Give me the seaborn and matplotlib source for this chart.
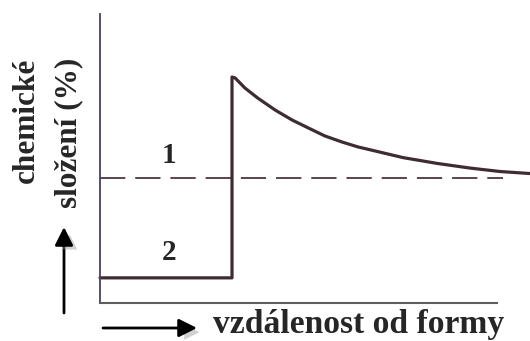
import numpy as np
import pandas as pd
import seaborn as sns
import matplotlib.pyplot as plt
import matplotlib.patheffects as pe

# distance from the mould wall (arbitrary units) and chemical composition (%)
dist_2 = [0, 3.07, 3.07, 3.14, 3.37, 3.67, 4.07, 4.47, 4.84, 5.23, 5.63, 6.00, 6.40,
          7.05, 7.84, 8.60, 9.30, 10.0]
comp_2 = [8.7, 8.7, 78.2, 77.9, 74.4, 70.9, 66.8, 63.3, 60.6, 57.8, 55.7, 54.0, 52.6,
          50.3, 48.3, 46.7, 45.5, 44.8]
dist_1 = [0, 9.37]
comp_1 = [43.4, 43.4]

df2 = pd.DataFrame({'dist': dist_2, 'comp': comp_2})
df1 = pd.DataFrame({'dist': dist_1, 'comp': comp_1})

sns.set_style('white')
serif = ['Liberation Serif', 'DejaVu Serif']

fig = plt.figure(figsize=(5.3, 3.41), dpi=100)
ax = fig.add_axes([100 / 530, 38 / 341, 430 / 530, 289 / 341])

# curve 1 - dashed, curve 2 - solid
sns.lineplot(data=df1, x='dist', y='comp', ax=ax, sort=False, estimator=None,
             color='#4e363c', lw=1.3, linestyle=(0, (14, 5.5)))
sns.lineplot(data=df2, x='dist', y='comp', ax=ax, sort=False, estimator=None,
             color='#3e2c32', lw=2.3)
for ln in ax.lines:
    ln.set_clip_on(False)
    ln.set_solid_joinstyle('round')
    ln.set_solid_capstyle('round')

ax.set_xlim(0, 10)
ax.set_ylim(0, 100)
ax.set_xticks([])
ax.set_yticks([])
ax.set_xlabel('')
ax.set_ylabel('')
for s in ['top', 'right']:
    ax.spines[s].set_visible(False)
ax.spines['left'].set_color('#4e4058')
ax.spines['left'].set_linewidth(1.3)
ax.spines['bottom'].set_color('#5e5e5e')
ax.spines['bottom'].set_linewidth(1.5)
ax.spines['bottom'].set_bounds(0, 9.23)

# curve numbers
ax.text(1.6, 51, '1', family=serif, weight='bold', fontsize=21, ha='center', va='center')
ax.text(1.6, 17.5, '2', family=serif, weight='bold', fontsize=21, ha='center', va='center')

# axis titles
fig.text(213, 8, 'vzdálenost od formy', transform=None, family=serif, weight='bold',
         fontsize=24.2, ha='left', va='baseline')
fig.text(34, 341 - 120, 'chemické', transform=None, family=serif, weight='bold',
         fontsize=22.5, rotation=90, rotation_mode='anchor', ha='center', va='baseline')
fig.text(76, 341 - 133, 'složení (%)', transform=None, family=serif, weight='bold',
         fontsize=22.5, rotation=90, rotation_mode='anchor', ha='center', va='baseline')

# direction arrows with soft shadow
for start, end in [((64, 341 - 313), (64, 341 - 227)), ((103, 341 - 328), (197, 341 - 328))]:
    a = ax.annotate('', xy=end, xytext=start, xycoords='figure pixels',
                    textcoords='figure pixels',
                    arrowprops=dict(arrowstyle='-|>,head_length=1.1,head_width=0.55',
                                    color='black', lw=2.0, shrinkA=0, shrinkB=0))
    a.arrow_patch.set_path_effects([pe.SimplePatchShadow(offset=(4, -3), shadow_rgbFace='#9a9a9a',
                                                         alpha=0.45), pe.Normal()])

fig.savefig('out.png', dpi=100)
